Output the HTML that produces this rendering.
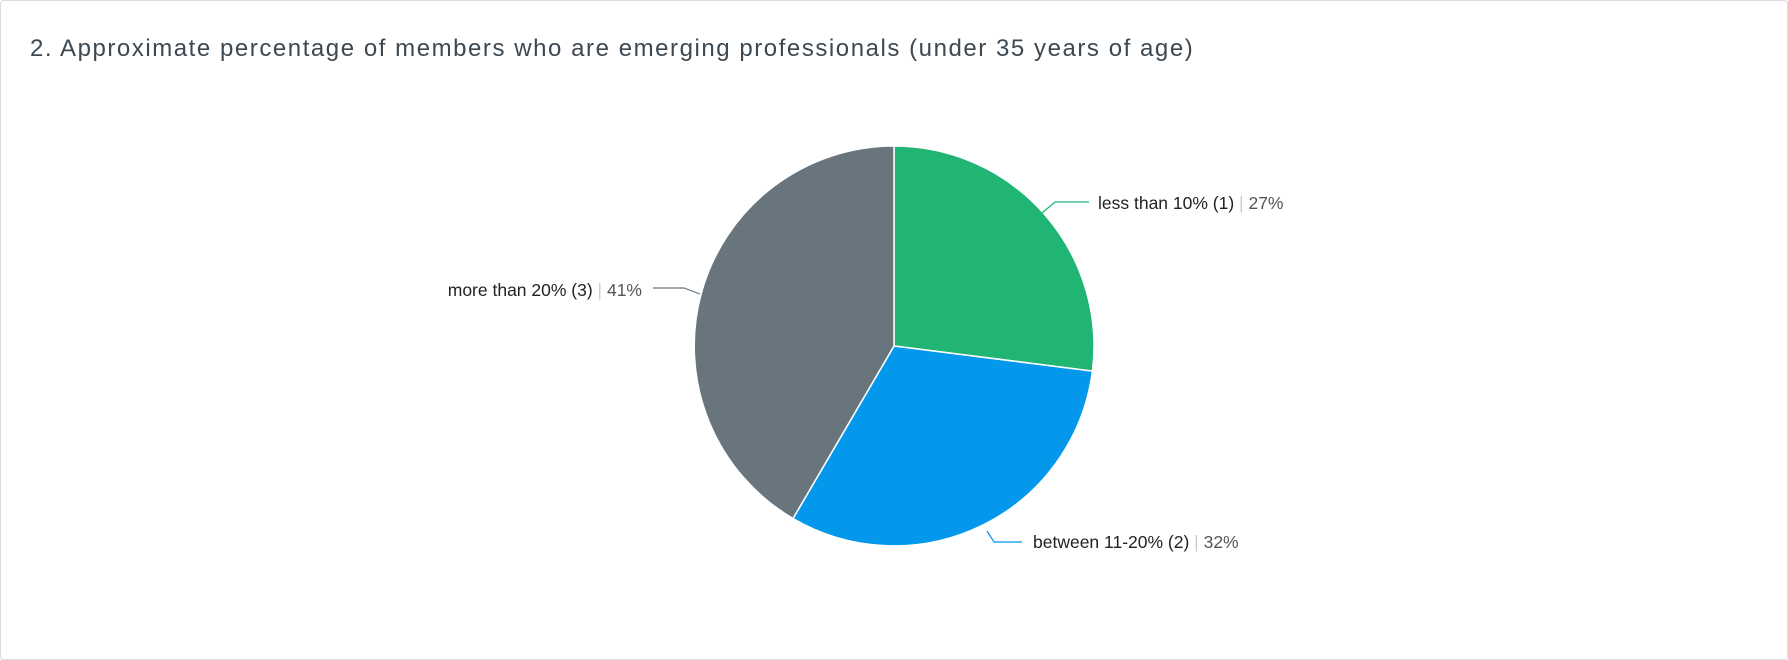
<!DOCTYPE html>
<html><head><meta charset="utf-8"><style>
html,body{margin:0;padding:0;background:#fff;}
.card{position:absolute;left:0;top:0;width:1786px;height:658px;border:1px solid #d9dde0;border-radius:4px;}
.title{position:absolute;left:30px;top:35px;font-family:"Liberation Sans",sans-serif;font-size:24px;color:#3c4852;letter-spacing:1.55px;}
</style></head><body>
<div class="card"></div>
<div class="title">2. Approximate percentage of members who are emerging professionals (under 35 years of age)</div>
<svg width="1788" height="660" style="position:absolute;left:0;top:0" font-family="Liberation Sans, sans-serif" font-size="17.5">
<path d="M894,346 L894,146 A200,200 0 0 1 1092.4,371.1 Z" fill="#21b573" stroke="#fff" stroke-width="1.5"/>
<path d="M894,346 L1092.4,371.1 A200,200 0 0 1 793,518.5 Z" fill="#0398eb" stroke="#fff" stroke-width="1.5"/>
<path d="M894,346 L793,518.5 A200,200 0 0 1 894,146 Z" fill="#68757d" stroke="#fff" stroke-width="1.5"/>
<polyline points="1042,213 1055,202 1089,202" fill="none" stroke="#21b573" stroke-width="1.2"/>
<polyline points="653,288 684,288 700,294" fill="none" stroke="#68757d" stroke-width="1.2"/>
<polyline points="987,531 994,542 1022,542" fill="none" stroke="#0398eb" stroke-width="1.2"/>
<text x="1098" y="209" fill="#222">less than 10% (1) <tspan fill="#ccc">|</tspan> <tspan fill="#555">27%</tspan></text>
<text x="642" y="296" fill="#222" text-anchor="end">more than 20% (3) <tspan fill="#ccc">|</tspan> <tspan fill="#555">41%</tspan></text>
<text x="1033" y="548" fill="#222">between 11-20% (2) <tspan fill="#ccc">|</tspan> <tspan fill="#555">32%</tspan></text>
</svg>
</body></html>
